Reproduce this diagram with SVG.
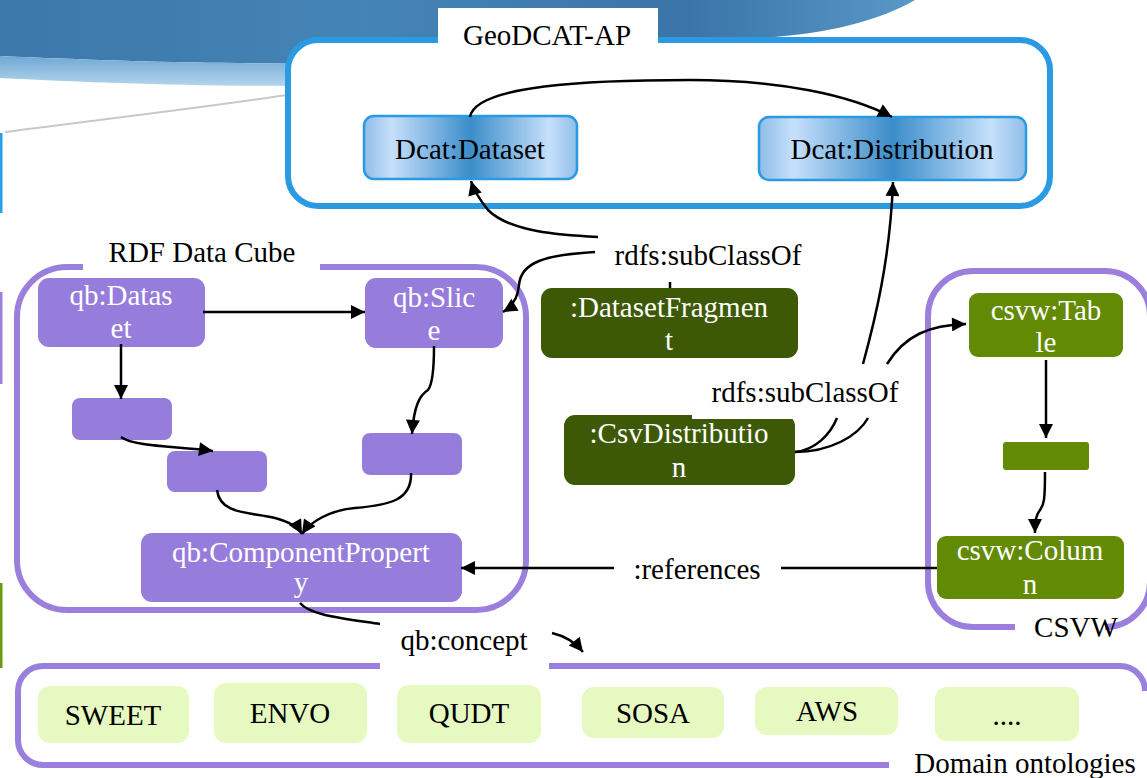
<svg xmlns="http://www.w3.org/2000/svg" width="1147" height="778" viewBox="0 0 1147 778">
<defs>
<style>
text{font-family:"Liberation Serif","Times New Roman",serif;font-size:29px;text-anchor:middle}
.lbl{fill:#000}
.wt{fill:#fff}
.dcat{fill:url(#dcatg);stroke:#2a9be2;stroke-width:2.5}
.qb{fill:#967ddb}
.frag{fill:#3e5905}
.csvw{fill:#628a05}
.onto{fill:#e6f9c1}
.cont{fill:none;stroke:#9a80dc;stroke-width:6}
.edge{fill:none;stroke:#000;stroke-width:2.5}
.arr{marker-end:url(#ah)}
</style>
<linearGradient id="dcatg" x1="0" y1="0" x2="1" y2="0">
<stop offset="0" stop-color="#8fbde8"/>
<stop offset="0.13" stop-color="#c6e0fb"/>
<stop offset="0.5" stop-color="#3b8dca"/>
<stop offset="0.87" stop-color="#c6e0fb"/>
<stop offset="1" stop-color="#8fbde8"/>
</linearGradient>
<linearGradient id="bandg" x1="0" y1="0" x2="1" y2="0">
<stop offset="0" stop-color="#3c78aa"/>
<stop offset="0.4" stop-color="#4584b6"/>
<stop offset="0.75" stop-color="#3a74a8"/>
<stop offset="1" stop-color="#5a98c8"/>
</linearGradient>
<linearGradient id="lightg" x1="0" y1="0" x2="0" y2="1">
<stop offset="0" stop-color="#6fa8d4"/>
<stop offset="1" stop-color="#b5d5ec"/>
</linearGradient>
<marker id="ah" viewBox="0 0 10 10" refX="10" refY="5" markerWidth="16" markerHeight="14" markerUnits="userSpaceOnUse" orient="auto">
<path d="M0,0 L10,5 L0,10 z" fill="#000"/>
</marker>
</defs>

<g id="background">
<rect x="0" y="0" width="1147" height="778" fill="#fff"/>
<path d="M0,0 L915,0 C880,20 830,34 760,38 C650,45 500,58 300,63 C200,64 90,60 0,56 Z" fill="url(#bandg)"/>
<path d="M0,56 C90,60 200,64 300,63 L430,59 C390,74 340,84 290,86 C180,86 80,82 0,78 Z" fill="url(#lightg)"/>
<path d="M5,132 C80,122 200,108 287,95" fill="none" stroke="#c8c8c8" stroke-width="2"/>
<rect x="0" y="133" width="2.5" height="80" fill="#29a0e8"/>
<rect x="0" y="292" width="2.5" height="92" fill="#9b80dc"/>
<rect x="0" y="583" width="2.5" height="85" fill="#6a9a10"/>
</g>

<g id="containers">
<g id="geodcat-ap">
<rect x="288" y="40" width="762" height="166" rx="30" fill="#fff" stroke="#2a9be2" stroke-width="6"/>
<rect x="438" y="8" width="220" height="38" fill="#fff"/>
<text class="lbl" x="547" y="45">GeoDCAT-AP</text>
</g>
<g id="rdf-data-cube">
<path class="cont" d="M320,267 H476 A50,50 0 0 1 526,317 V560 A50,50 0 0 1 476,610 H67 A50,50 0 0 1 17,560 V317 A50,50 0 0 1 67,267 H83"/>
<text class="lbl" x="202" y="262">RDF Data Cube</text>
</g>
<g id="csvw">
<path class="cont" d="M1015,627 H973 A45,45 0 0 1 928,582 V316 A45,45 0 0 1 973,271 H1105 A45,45 0 0 1 1150,316 V582 A45,45 0 0 1 1105,627"/>
<text class="lbl" x="1076" y="637">CSVW</text>
</g>
<g id="domain-ontologies">
<path class="cont" d="M889,765 H43 A25,25 0 0 1 18,740 V691 A25,25 0 0 1 43,666 H380 M549,666 H1120 A25,25 0 0 1 1145,691"/>
<text class="lbl" x="1025" y="773">Domain ontologies</text>
</g>
</g>

<g id="nodes">
<g id="dcat-dataset"><rect class="dcat" x="364" y="116" width="213" height="63" rx="10"/><text class="lbl" x="470" y="159">Dcat:Dataset</text></g>
<g id="dcat-distribution"><rect class="dcat" x="759" y="117" width="267" height="63" rx="10"/><text class="lbl" x="892" y="159">Dcat:Distribution</text></g>

<g id="qb-dataset"><rect class="qb" x="38" y="278" width="167" height="69" rx="11"/><text class="wt" x="121" y="305">qb:Datas</text><text class="wt" x="121" y="338">et</text></g>
<g id="qb-slice"><rect class="qb" x="365" y="278" width="138" height="70" rx="11"/><text class="wt" x="434" y="307">qb:Slic</text><text class="wt" x="434" y="340">e</text></g>
<g id="qb-box1"><rect class="qb" x="72" y="398" width="100" height="42" rx="8"/></g>
<g id="qb-box2"><rect class="qb" x="167" y="451" width="100" height="41" rx="8"/></g>
<g id="qb-box3"><rect class="qb" x="362" y="433" width="100" height="42" rx="8"/></g>
<g id="qb-componentproperty"><rect class="qb" x="141" y="533" width="321" height="69" rx="11"/><text class="wt" x="301" y="562">qb:ComponentPropert</text><text class="wt" x="301" y="592">y</text></g>

<g id="datasetfragment"><rect class="frag" x="541" y="288" width="257" height="70" rx="11"/><text class="wt" x="669" y="317">:DatasetFragmen</text><text class="wt" x="669" y="350">t</text></g>
<g id="csvdistribution"><rect class="frag" x="564" y="415" width="231" height="70" rx="11"/><text class="wt" x="679" y="443">:CsvDistributio</text><text class="wt" x="679" y="477">n</text></g>

<g id="csvw-table"><rect class="csvw" x="969" y="293" width="154" height="64" rx="9"/><text class="wt" x="1046" y="320">csvw:Tab</text><text class="wt" x="1046" y="352">le</text></g>
<g id="csvw-box"><rect class="csvw" x="1003" y="442" width="86" height="28" rx="3"/></g>
<g id="csvw-column"><rect class="csvw" x="937" y="536" width="187" height="63" rx="9"/><text class="wt" x="1030" y="560">csvw:Colum</text><text class="wt" x="1030" y="594">n</text></g>

<g id="sweet"><rect class="onto" x="38" y="686" width="151" height="57" rx="12"/><text class="lbl" x="113" y="725">SWEET</text></g>
<g id="envo"><rect class="onto" x="214" y="683" width="153" height="60" rx="12"/><text class="lbl" x="290" y="723">ENVO</text></g>
<g id="qudt"><rect class="onto" x="397" y="685" width="144" height="58" rx="12"/><text class="lbl" x="469" y="723">QUDT</text></g>
<g id="sosa"><rect class="onto" x="582" y="687" width="142" height="51" rx="12"/><text class="lbl" x="653" y="723">SOSA</text></g>
<g id="aws"><rect class="onto" x="755" y="687" width="143" height="48" rx="12"/><text class="lbl" x="827" y="721">AWS</text></g>
<g id="more"><rect class="onto" x="935" y="687" width="144" height="54" rx="12"/><text class="lbl" x="1007" y="725">....</text></g>
</g>

<g id="connectors">
<path class="edge arr" d="M470,117 C475,85 590,80 690,80 C780,80 850,95 892,117"/>
<path class="edge arr" d="M598,237 C560,235 510,232 488,210 C480,200 474,191 471,181"/>
<path class="edge arr" d="M595,252 C545,255 521,262 519,285 C518,298 513,306 503,312"/>
<path class="edge" d="M670,288 L670,282"/>
<text class="lbl" x="708" y="265">rdfs:subClassOf</text>

<rect x="692" y="366" width="218" height="53" fill="#fff"/>
<text class="lbl" x="805" y="402">rdfs:subClassOf</text>
<path class="edge" d="M795,452 C815,450 830,435 837,418"/>
<path class="edge" d="M795,452 C830,452 858,436 868,418"/>
<path class="edge arr" d="M863,364 C875,320 890,260 893,182"/>
<path class="edge arr" d="M887,364 C905,335 930,325 966,324"/>

<path class="edge arr" d="M203,312 L365,312"/>
<path class="edge arr" d="M121,344 L121,399"/>
<path class="edge arr" d="M121,437 C135,447 175,446 213,451"/>
<path class="edge arr" d="M217,490 C220,515 250,512 275,518 C290,522 298,527 302,534"/>
<path class="edge arr" d="M434,346 C434,370 432,385 428,390 C420,395 414,405 412,434"/>
<path class="edge arr" d="M411,473 C412,500 390,505 355,508 C330,510 310,522 302,534"/>

<path class="edge arr" d="M1046,360 L1046,438"/>
<path class="edge arr" d="M1045,472 C1045,500 1044,505 1040,510 C1036,515 1035,520 1035,533"/>

<path class="edge" d="M937,568 L781,568"/>
<path class="edge arr" d="M614,568 L461,568"/>
<text class="lbl" x="697" y="579">:references</text>

<path class="edge" d="M300,603 C310,615 340,618 380,624"/>
<rect x="380" y="625" width="169" height="44" fill="#fff"/>
<text class="lbl" x="464" y="650">qb:concept</text>
<path class="edge arr" d="M552,633 C565,636 575,642 583,652"/>
</g>
</svg>
